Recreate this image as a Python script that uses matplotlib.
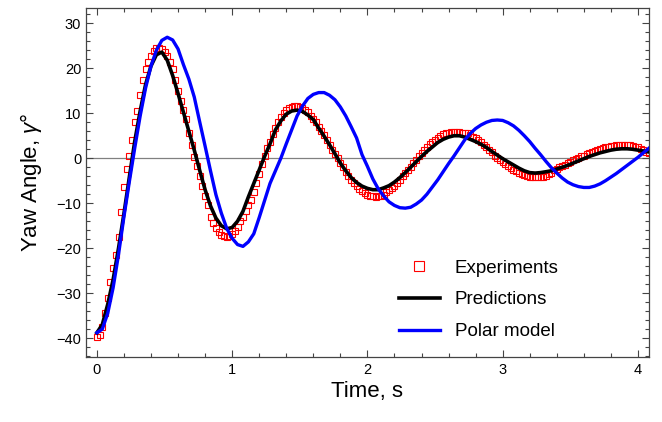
import numpy as np
import matplotlib
matplotlib.use("Agg")
import matplotlib.pyplot as plt
from matplotlib.ticker import MultipleLocator

plt.rcParams['font.family'] = ['Liberation Sans', 'DejaVu Sans']
plt.rcParams['mathtext.fontset'] = 'custom'
plt.rcParams['mathtext.it'] = 'Liberation Sans:italic'
plt.rcParams['mathtext.rm'] = 'Liberation Sans'

# experiments, sampled every 0.02 s
t_exp = np.arange(205) * 0.02
y_exp = [
    -39.8, -39.3, -37.5, -34.5, -31.0, -27.5, -24.5, -21.5, -17.5, -12.0,
    -6.5, -2.5, 0.5, 4.0, 8.0, 10.5, 14.0, 17.5, 19.8, 21.5,
    22.8, 23.8, 24.4, 24.6, 24.2, 23.7, 22.8, 21.5, 19.8, 17.3,
    15.0, 12.7, 10.8, 8.8, 5.5, 3.0, 0.2, -1.8, -4.0, -6.2,
    -8.5, -10.5, -13.0, -14.5, -15.6, -16.4, -17.0, -17.4, -17.6, -17.4,
    -16.8, -16.2, -15.2, -14.0, -13.0, -11.8, -10.4, -9.2, -7.5, -5.6,
    -3.5, -1.3, 0.6, 2.2, 3.7, 5.3, 6.8, 8.0, 9.1, 10.0,
    10.7, 11.2, 11.5, 11.6, 11.6, 11.4, 11.1, 10.8, 10.2, 9.5,
    8.7, 8.0, 7.0, 6.1, 5.1, 4.1, 2.9, 1.8, 0.9, 0.0,
    -1.0, -2.0, -3.0, -3.9, -4.8, -5.6, -6.2, -6.8, -7.3, -7.7,
    -8.1, -8.3, -8.5, -8.6, -8.5, -8.4, -8.1, -7.6, -7.1, -6.7,
    -6.1, -5.5, -4.8, -4.0, -3.3, -2.6, -1.9, -1.1, -0.4, 0.4,
    1.1, 1.8, 2.5, 3.1, 3.6, 4.1, 4.5, 5.0, 5.3, 5.5,
    5.7, 5.8, 5.9, 5.9, 5.8, 5.7, 5.6, 5.5, 5.1, 4.8,
    4.4, 4.1, 3.5, 2.9, 2.4, 1.8, 1.4, 0.6, 0.0, -0.5,
    -0.9, -1.3, -1.8, -2.2, -2.6, -2.9, -3.2, -3.5, -3.8, -4.0,
    -4.1, -4.2, -4.2, -4.2, -4.2, -4.1, -3.9, -3.6, -3.2, -2.7,
    -2.3, -2.0, -1.7, -1.4, -1.1, -0.8, -0.5, -0.2, 0.1, 0.4,
    0.6, 0.9, 1.1, 1.4, 1.6, 1.9, 2.1, 2.3, 2.4, 2.6,
    2.7, 2.8, 2.9, 2.9, 3.0, 3.0, 3.0, 2.9, 2.8, 2.6,
    2.4, 2.1, 1.8, 1.4, 1.1,
]

# model curves, every 0.04 s
t_mod = np.arange(103) * 0.04
y_pred = [
    -38.8, -37.0, -32.5, -27.0, -20.0, -12.3, -4.2, 3.8, 10.5, 16.4,
    20.5, 23.0, 23.6, 21.8, 18.4, 14.4, 10.2, 6.0, 1.8, -2.7,
    -7.0, -10.6, -13.3, -15.0, -15.7, -15.4, -14.0, -11.8, -8.6, -5.6,
    -2.6, 0.4, 3.2, 6.3, 8.3, 9.8, 10.5, 10.7, 10.4, 9.6,
    8.6, 6.7, 4.9, 3.0, 1.0, -1.1, -2.8, -4.3, -5.4, -6.2,
    -6.7, -7.0, -7.0, -6.6, -6.1, -5.3, -4.3, -3.2, -2.0, -0.8,
    0.4, 1.5, 2.5, 3.5, 4.2, 4.7, 5.0, 5.0, 4.7, 4.2,
    3.7, 3.1, 2.4, 1.5, 0.7, -0.1, -0.8, -1.5, -2.2, -2.8,
    -3.2, -3.3, -3.2, -3.0, -2.8, -2.4, -2.0, -1.6, -1.1, -0.6,
    -0.1, 0.4, 0.8, 1.2, 1.5, 1.8, 2.0, 2.1, 2.1, 2.0,
    1.8, 1.6, 1.4,
]
y_polar = [
    -38.8, -38.0, -34.5, -28.8, -21.4, -13.0, -5.2, 2.3, 9.4, 15.6,
    20.5, 24.0, 26.2, 26.9, 26.3, 24.3, 20.8, 17.6, 13.6, 8.1,
    2.7, -2.8, -8.1, -12.2, -15.6, -17.8, -19.2, -19.6, -18.6, -16.8,
    -13.2, -9.4, -5.6, -2.8, 0.0, 3.2, 6.3, 9.4, 11.6, 13.3,
    14.2, 14.6, 14.6, 14.0, 13.0, 11.4, 9.4, 7.0, 4.5, 0.8,
    -1.8, -4.6, -6.8, -8.4, -9.7, -10.5, -11.0, -11.1, -10.9, -10.2,
    -9.3, -8.0, -6.4, -4.8, -3.0, -1.2, 0.5, 2.3, 4.1, 5.5,
    6.6, 7.4, 8.0, 8.4, 8.5, 8.4, 7.9, 7.2, 6.2, 5.0,
    3.7, 2.2, 0.8, -0.7, -2.1, -3.3, -4.4, -5.3, -5.9, -6.3,
    -6.5, -6.5, -6.2, -5.7, -5.0, -4.2, -3.4, -2.5, -1.6, -0.7,
    0.2, 1.2, 2.2,
]

fig = plt.figure(figsize=(6.62, 4.22), dpi=100)
ax = fig.add_axes([0.130, 0.154, 0.850, 0.827])

ax.axhline(0, color='gray', lw=0.9, zorder=1)
ax.plot(t_exp, y_exp, ls='none', marker='s', ms=5, mfc='none', mec='red',
        mew=0.8, label='Experiments', zorder=2)
ax.plot(t_mod, y_pred, color='black', lw=2.6, label='Predictions', zorder=3)
ax.plot(t_mod, y_polar, color='blue', lw=2.4, label='Polar model', zorder=4)

ax.set_xlim(-0.08, 4.08)
ax.set_ylim(-44.2, 33.4)
ax.xaxis.set_major_locator(MultipleLocator(1))
ax.xaxis.set_minor_locator(MultipleLocator(0.2))
ax.yaxis.set_major_locator(MultipleLocator(10))
ax.yaxis.set_minor_locator(MultipleLocator(2))
ax.tick_params(which='both', direction='in', top=True, right=True,
               labelsize=10.5, color='#444444', width=0.8)
ax.tick_params(which='major', length=5)
ax.tick_params(which='minor', length=3)
ax.tick_params(axis='x', pad=4)
for s in ax.spines.values():
    s.set_color('#444444')
    s.set_linewidth(0.9)

ax.set_xlabel('Time, s', fontsize=16, labelpad=3)
ax.set_ylabel(r'Yaw Angle, $\gamma$°', fontsize=16, labelpad=9)

ax.legend(loc='lower right', bbox_to_anchor=(0.87, 0.0), frameon=False,
          fontsize=13.5, handlelength=2.2, labelspacing=0.78, markerscale=1.3)

fig.savefig('out.png', dpi=100)
